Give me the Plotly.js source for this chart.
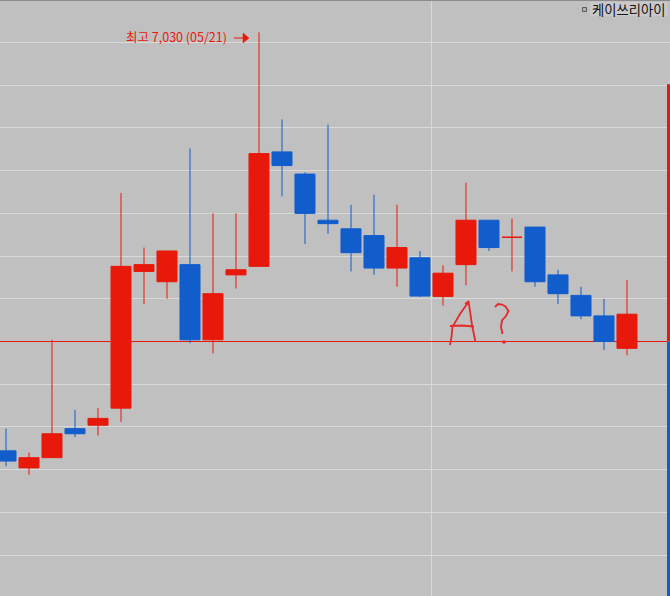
<!DOCTYPE html>
<html><head><meta charset="utf-8">
<script src="https://cdn.plot.ly/plotly-3.0.1.min.js"></script>
<style>html,body{margin:0;padding:0;background:#c0c0c0;overflow:hidden}#chart{width:670px;height:596px}</style>
</head><body><div id="chart"></div>
<script>
const stockName = '케이쓰리아이';
const dates = ['05/02','05/07','05/08','05/09','05/12','05/13','05/14','05/15','05/16','05/19','05/20','05/21','05/22','05/23','05/26','05/27','05/28','05/29','05/30','06/02','06/04','06/05','06/09','06/10','06/11','06/12','06/13','06/16'];
const openP  = [5805,5755,5785,5870,5880,5930,6330,6300,6350,6130,6320,6345,6680,6615,6480,6455,6435,6340,6370,6257,6350,6480,6430,6460,6320,6260,6200,6105];
const highP  = [5870,5800,6130,5925,5930,6560,6400,6390,6690,6500,6500,7030,6775,6620,6760,6525,6555,6525,6390,6348,6590,6480,6485,6460,6335,6285,6250,6305];
const lowP   = [5760,5735,5785,5845,5850,5890,6235,6250,6120,6090,6280,6345,6550,6410,6440,6330,6320,6285,6255,6230,6290,6390,6330,6285,6235,6190,6100,6085];
const closeP = [5775,5785,5855,5855,5900,6345,6350,6390,6130,6265,6335,6675,6640,6500,6470,6385,6340,6400,6258,6325,6480,6400,6430,6300,6265,6200,6125,6205];
const gridLevels = [7000,6875,6750,6625,6500,6375,6250,6125,6000,5875,5750,5625,5500];
const refPrice = 6125;
const barTop = 6878;

const RED = '#e8190a', BLUE = '#125dcc', GRID = '#d9d9d9', BG = '#c0c0c0';
const xIdx = dates.map((d, i) => i);

const W = 670, H = 596;
const P = (x, y) => (x / W).toFixed(5) + ',' + (1 - y / H).toFixed(5);
const path = pts => 'M' + pts.map(p => P(p[0], p[1])).join(' L');

let maxI = 0;
highP.forEach((v, i) => { if (v > highP[maxI]) maxI = i; });
const maxText = '최고 ' + highP[maxI].toLocaleString('en-US') + ' (' + dates[maxI] + ')';

const trace = {
  type: 'candlestick', x: xIdx, open: openP, high: highP, low: lowP, close: closeP,
  text: dates, hoverinfo: 'skip', whiskerwidth: 0,
  increasing: { line: { color: RED, width: 1 }, fillcolor: RED },
  decreasing: { line: { color: BLUE, width: 1 }, fillcolor: BLUE }
};

const hand = { type: 'path', xref: 'paper', yref: 'paper', line: { color: '#e52a2a', width: 1.8 } };

const shapes = [
  { type: 'line', xref: 'x', yref: 'paper', x0: 18.5, x1: 18.5, y0: 0, y1: 1, line: { color: GRID, width: 1 }, layer: 'below' },
  { type: 'line', xref: 'paper', yref: 'paper', x0: 0, x1: 1, y0: 1 - 0.5 / H, y1: 1 - 0.5 / H, line: { color: '#8a8a8a', width: 1 } },
  { type: 'line', xref: 'paper', yref: 'y', x0: 0, x1: 667 / W, y0: refPrice, y1: refPrice, line: { color: RED, width: 1 }, layer: 'below' },
  { type: 'rect', xref: 'paper', yref: 'y', x0: 667 / W, x1: 1, y0: refPrice, y1: barTop, fillcolor: RED, line: { width: 0 } },
  { type: 'rect', xref: 'paper', yref: 'y', x0: 667 / W, x1: 1, y0: 5300, y1: refPrice, fillcolor: BLUE, line: { width: 0 } },
  { type: 'path', xref: 'paper', yref: 'paper', path: path([[234, 38], [244, 38]]), line: { color: RED, width: 1 } },
  { type: 'path', xref: 'paper', yref: 'paper', path: path([[243, 33], [249, 38], [243, 43]]) + ' Z', fillcolor: RED, line: { color: RED, width: 0.5 } },
  { type: 'rect', xref: 'paper', yref: 'paper', x0: 590 / W, x1: 667 / W, y0: 1 - 16 / H, y1: 1 - 2 / H, fillcolor: '#c9c9c9', line: { width: 0 } },
  { type: 'rect', xref: 'paper', yref: 'paper', x0: 582.5 / W, x1: 586.5 / W, y0: 1 - 11.5 / H, y1: 1 - 7.5 / H, fillcolor: '#b0b0b0', line: { color: '#5a5a5a', width: 1 } },
  Object.assign({}, hand, { path: path([[450, 345], [451.5, 337], [452.5, 327], [460, 314], [468.5, 302]]) }),
  Object.assign({}, hand, { path: path([[465, 304], [468.5, 301.5], [470, 311], [472, 325], [475.5, 342]]) }),
  Object.assign({}, hand, { path: path([[450, 326], [462, 325.5], [474, 326.5]]) }),
  Object.assign({}, hand, { path: path([[495, 307], [498, 304], [502, 304.5], [505.5, 306.5], [508.5, 311], [506, 316], [502, 320.5], [501, 327], [502.5, 334]]) }),
  { type: 'circle', xref: 'paper', yref: 'paper', x0: 502.5 / W, x1: 505.5 / W, y0: 1 - 343.5 / H, y1: 1 - 340.5 / H, fillcolor: '#e52a2a', line: { color: '#e52a2a', width: 0.5 } }
];

const annotations = [
  { xref: 'paper', yref: 'paper', x: 229 / W, y: 1 - 36.5 / H, xanchor: 'right', yanchor: 'middle', showarrow: false,
    text: maxText, font: { family: 'Noto Sans CJK KR, sans-serif', size: 12.5, color: RED } },
  { xref: 'paper', yref: 'paper', x: 591 / W, y: 1 - 9 / H, xanchor: 'left', yanchor: 'middle', showarrow: false,
    text: stockName, borderpad: 0,
    font: { family: 'Noto Sans CJK KR, sans-serif', size: 13.3, color: '#111111' } }
];

const layout = {
  width: W, height: H, margin: { l: 0, r: 0, t: 0, b: 0, pad: 0 },
  paper_bgcolor: BG, plot_bgcolor: BG, showlegend: false, boxgap: 0.13, boxgroupgap: 0,
  xaxis: { range: [-0.261, 28.870], showgrid: false, zeroline: false, showticklabels: false, ticks: '', showline: false, rangeslider: { visible: false }, fixedrange: true },
  yaxis: { range: [5380.1, 7124.6], tickmode: 'array', tickvals: gridLevels.filter(v => v !== refPrice), showgrid: true, gridcolor: GRID, gridwidth: 1, zeroline: false, showticklabels: false, ticks: '', showline: false, fixedrange: true },
  shapes: shapes, annotations: annotations
};

Plotly.newPlot('chart', [trace], layout, { displayModeBar: false, staticPlot: true });
</script></body></html>
